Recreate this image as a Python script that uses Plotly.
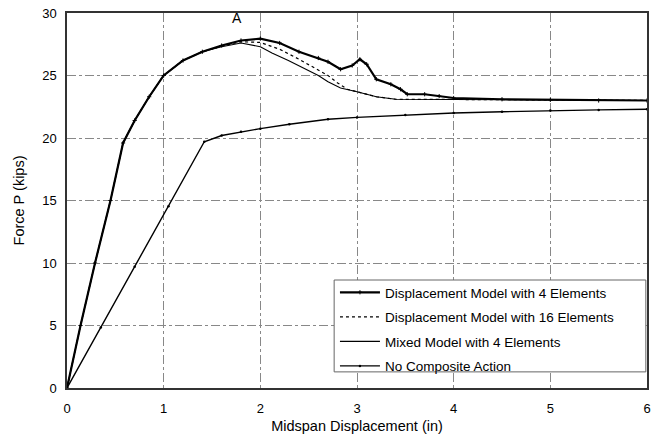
import plotly.graph_objects as go

# Load-deflection response of the composite beam
disp4_x = [0, 0.14, 0.29, 0.45, 0.58, 0.7, 0.85, 1.0, 1.2, 1.4, 1.6, 1.8, 2.0, 2.2, 2.4, 2.6, 2.7,
           2.83, 2.95, 3.03, 3.1, 3.2, 3.35, 3.45, 3.52, 3.7, 3.85, 4.0, 4.5, 5.0, 5.5, 6.0]
disp4_y = [0, 5, 10, 15, 19.6, 21.4, 23.3, 25.0, 26.2, 26.9, 27.4, 27.8, 27.95, 27.6, 26.9, 26.4, 26.1,
           25.5, 25.8, 26.3, 25.9, 24.7, 24.3, 23.9, 23.5, 23.5, 23.35, 23.2, 23.1, 23.05, 23.0, 23.0]

disp16_x = [0, 0.14, 0.29, 0.45, 0.58, 0.7, 0.85, 1.0, 1.2, 1.4, 1.6, 1.8, 2.0, 2.2, 2.4, 2.6, 2.7,
            2.8, 2.9, 3.0, 3.2, 3.4, 4.0, 5.0, 6.0]
disp16_y = [0, 5, 10, 15, 19.6, 21.4, 23.3, 25.0, 26.2, 26.9, 27.35, 27.7, 27.65, 27.1, 26.3, 25.4, 25.0,
            24.4, 23.9, 23.7, 23.3, 23.1, 23.1, 23.05, 23.0]

mixed_x = [0, 0.14, 0.29, 0.45, 0.58, 0.7, 0.85, 1.0, 1.2, 1.4, 1.6, 1.8, 2.0, 2.12, 2.29, 2.45, 2.6, 2.7,
           2.83, 3.0, 3.2, 3.4, 4.0, 5.0, 6.0]
mixed_y = [0, 5, 10, 15, 19.6, 21.4, 23.3, 25.0, 26.2, 26.9, 27.3, 27.6, 27.3, 26.8, 26.2, 25.6, 25.0, 24.5,
           24.0, 23.7, 23.3, 23.1, 23.1, 23.05, 23.0]

nocomp_x = [0, 0.35, 0.7, 1.05, 1.42, 1.6, 1.8, 2.0, 2.3, 2.7, 3.0, 3.5, 4.0, 4.5, 5.0, 5.5, 6.0]
nocomp_y = [0, 4.85, 9.7, 14.55, 19.7, 20.2, 20.5, 20.75, 21.1, 21.5, 21.65, 21.85, 22.0, 22.1, 22.2, 22.25, 22.3]

x_ticks = [0, 1, 2, 3, 4, 5, 6]
y_ticks = [0, 5, 10, 15, 20, 25, 30]

FONT = "Liberation Sans, Arial, sans-serif"

fig = go.Figure()
fig.add_trace(go.Scatter(
    x=disp4_x, y=disp4_y, mode="lines+markers", name="Displacement Model with 4 Elements",
    line=dict(color="black", width=2.2), marker=dict(symbol="cross-thin", size=3,
                                                   line=dict(color="black", width=1)),
    legendgroup="a"))
fig.add_trace(go.Scatter(
    x=disp16_x, y=disp16_y, mode="lines", name="Displacement Model with 16 Elements",
    line=dict(color="black", width=1.2, dash="dot"), legendgroup="b"))
fig.add_trace(go.Scatter(
    x=mixed_x, y=mixed_y, mode="lines", name="Mixed Model with 4 Elements",
    line=dict(color="black", width=1.1), legendgroup="c"))
fig.add_trace(go.Scatter(
    x=nocomp_x, y=nocomp_y, mode="lines+markers", name="No Composite Action",
    line=dict(color="black", width=1.4), marker=dict(symbol="circle", size=2.5, color="black"),
    legendgroup="d"))

fig.add_annotation(x=1.76, y=29.6, text="A", showarrow=False,
                   font=dict(family=FONT, size=14, color="black"))

# Legend frame (wider than the entries themselves)
fig.add_shape(type="rect", xref="paper", yref="paper",
              x0=0.4606, x1=0.998, y0=0.043, y1=0.288,
              fillcolor="white", line=dict(color="#666666", width=1), layer="above")

fig.update_layout(
    width=657, height=439,
    margin=dict(l=67, r=6, t=13, b=51),
    paper_bgcolor="white", plot_bgcolor="white",
    font=dict(family=FONT, size=13, color="black"),
    showlegend=True,
    legend=dict(x=0.462, y=0.296, xanchor="left", yanchor="top",
                bgcolor="rgba(0,0,0,0)", borderwidth=0,
                font=dict(family=FONT, size=13.5, color="black"),
                tracegroupgap=4, itemwidth=40),
    xaxis=dict(range=[0, 6], tickvals=x_ticks, ticktext=[str(v) for v in x_ticks],
               showgrid=True, gridcolor="#888888", griddash="dashdot", gridwidth=1,
               showline=True, linecolor="#333333", linewidth=1.5, mirror=True,
               ticks="", zeroline=False, ticklabelstandoff=8,
               title=dict(text="Midspan Displacement (in)", font=dict(size=14.5), standoff=6)),
    yaxis=dict(range=[0, 30], tickvals=y_ticks, ticktext=[str(v) for v in y_ticks],
               showgrid=True, gridcolor="#888888", griddash="dashdot", gridwidth=1,
               showline=True, linecolor="#333333", linewidth=1.5, mirror=True,
               ticks="", zeroline=False, ticklabelstandoff=6,
               title=dict(text="Force P (kips)", font=dict(size=14.5), standoff=14)),
)

fig.write_html("out.html")
